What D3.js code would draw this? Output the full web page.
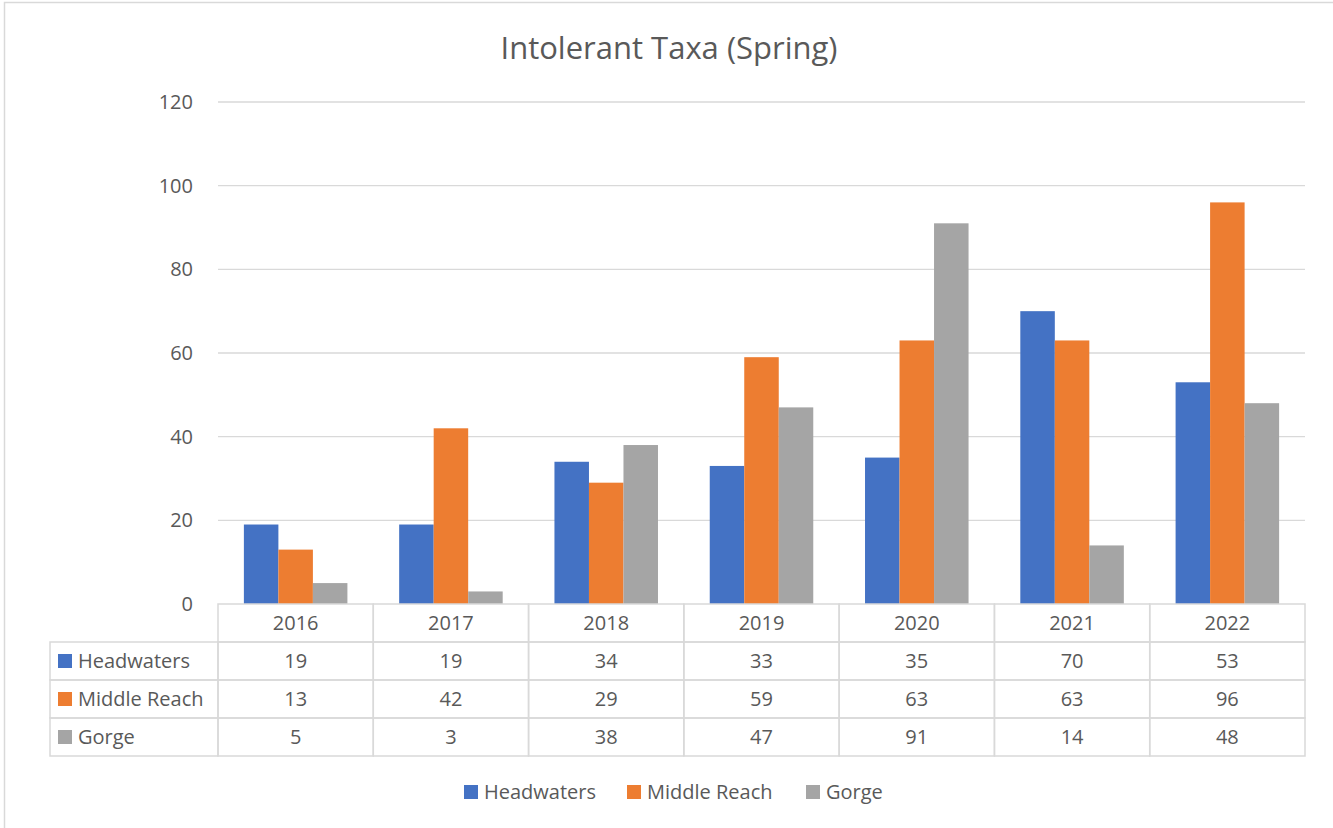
<!DOCTYPE html>
<html><head><meta charset="utf-8">
<script src="https://cdn.jsdelivr.net/npm/d3@7"></script>
<style>body{margin:0;background:#fff;} svg{display:block;font-family:"Open Sans","Noto Sans",sans-serif;}</style>
</head><body>
<svg id="c" width="1333" height="828"></svg>
<script>
const title = "Intolerant Taxa (Spring)";
const years = ["2016","2017","2018","2019","2020","2021","2022"];
const seriesNames = ["Headwaters","Middle Reach","Gorge"];
const headwaters = [19,19,34,33,35,70,53];
const middleReach = [13,42,29,59,63,63,96];
const gorge = [5,3,38,47,91,14,48];
const yTicks = [0,20,40,60,80,100,120];
const colors = ["#4472C4","#ED7D31","#A5A5A5"];
const seriesValues = [headwaters, middleReach, gorge];

(function(){
const svg = d3.select("#c");
const textColor = "#595959", gridColor = "#d9d9d9";
const fs = 20;

svg.append("rect").attr("x",4.5).attr("y",2.5).attr("width",1340).attr("height",840)
  .attr("fill","none").attr("stroke",gridColor).attr("stroke-width",1.5);

const pLeft = 218, pRight = 1305, pTop = 102, pBottom = 604;
const x = d3.scaleBand().domain(years).range([pLeft,pRight]).paddingInner(0).paddingOuter(0);
const y = d3.scaleLinear().domain([0,120]).range([pBottom,pTop]);
const gap = 1.5;
const x1 = d3.scaleBand().domain(seriesNames).range([0, x.bandwidth()*3/(3+gap)]);

svg.append("text").attr("x",669).attr("y",59).attr("text-anchor","middle")
  .attr("fill",textColor).attr("font-size",31).text(title);

svg.append("g").selectAll("line").data(yTicks.filter(d=>d>0)).join("line")
  .attr("x1",pLeft).attr("x2",pRight).attr("y1",d=>y(d)).attr("y2",d=>y(d))
  .attr("stroke",gridColor).attr("stroke-width",1.3);

const yAxis = d3.axisLeft(y).tickValues(yTicks).tickSize(0).tickPadding(25);
const ya = svg.append("g").attr("transform",`translate(${pLeft},0)`).call(yAxis);
ya.select(".domain").remove();
ya.selectAll("text").attr("fill",textColor).attr("font-size",fs).attr("font-family","'Open Sans','Noto Sans',sans-serif");

const offset = (x.bandwidth() - x1.range()[1])/2;
seriesNames.forEach((s,si)=>{
  svg.append("g").selectAll("rect").data(years).join("rect")
    .attr("x",d=>x(d)+offset+x1(s))
    .attr("width",x1.bandwidth())
    .attr("y",(d,i)=>y(seriesValues[si][i]))
    .attr("height",(d,i)=>y(0)-y(seriesValues[si][i]))
    .attr("fill",colors[si]);
});

const rowH = 38;
const tableLeft = 50;
const tg = svg.append("g");
tg.selectAll("rect.h").data(years).join("rect").attr("class","h")
  .attr("x",d=>x(d)).attr("y",pBottom).attr("width",x.bandwidth()).attr("height",rowH)
  .attr("fill","none").attr("stroke",gridColor).attr("stroke-width",1.5);
tg.selectAll("text.h").data(years).join("text").attr("class","h")
  .attr("x",d=>x(d)+x.bandwidth()/2).attr("y",pBottom+rowH/2+7)
  .attr("text-anchor","middle").attr("fill",textColor).attr("font-size",fs).text(d=>d);
seriesNames.forEach((s,si)=>{
  const ry = pBottom + rowH*(si+1);
  tg.append("rect").attr("x",tableLeft).attr("y",ry).attr("width",pLeft-tableLeft).attr("height",rowH)
    .attr("fill","none").attr("stroke",gridColor).attr("stroke-width",1.5);
  tg.append("rect").attr("x",58).attr("y",ry+rowH/2-7).attr("width",14).attr("height",14).attr("fill",colors[si]);
  tg.append("text").attr("x",78).attr("y",ry+rowH/2+7).attr("fill",textColor).attr("font-size",fs).text(s);
  tg.append("g").selectAll("rect").data(years).join("rect")
    .attr("x",d=>x(d)).attr("y",ry).attr("width",x.bandwidth()).attr("height",rowH)
    .attr("fill","none").attr("stroke",gridColor).attr("stroke-width",1.5);
  tg.append("g").selectAll("text").data(years).join("text")
    .attr("x",d=>x(d)+x.bandwidth()/2).attr("y",ry+rowH/2+7)
    .attr("text-anchor","middle").attr("fill",textColor).attr("font-size",fs)
    .text((d,i)=>seriesValues[si][i]);
});

const legendX = [464,627,806];
const lg = svg.append("g");
seriesNames.forEach((s,si)=>{
  lg.append("rect").attr("x",legendX[si]).attr("y",785).attr("width",14).attr("height",14).attr("fill",colors[si]);
  lg.append("text").attr("x",legendX[si]+20).attr("y",799).attr("fill",textColor).attr("font-size",fs).text(s);
});
})();
</script>
</body></html>
